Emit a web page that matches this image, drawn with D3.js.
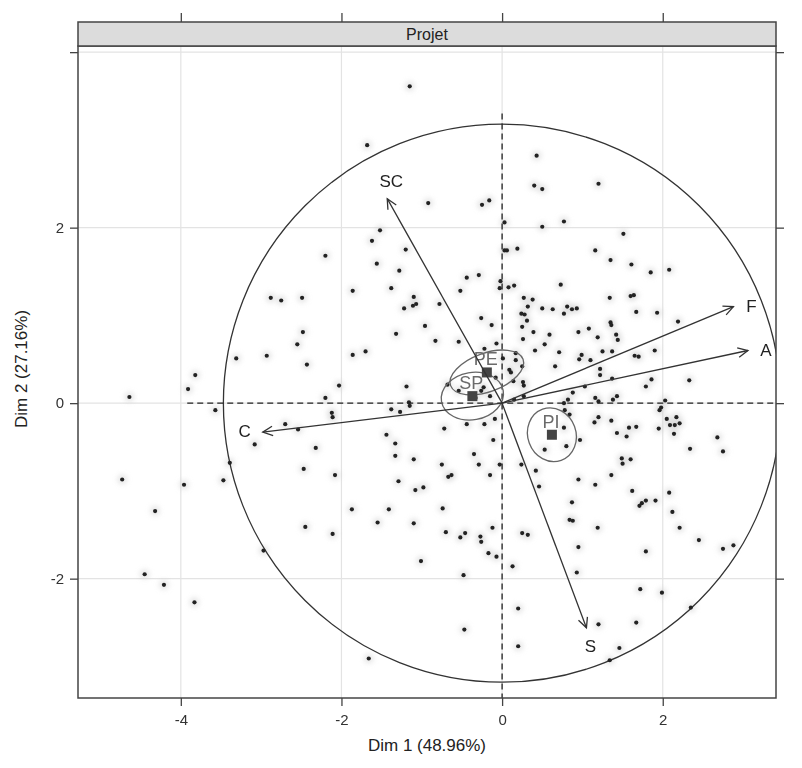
<!DOCTYPE html>
<html>
<head>
<meta charset="utf-8">
<script src="https://cdn.jsdelivr.net/npm/d3@7"></script>
<style>
body { margin: 0; background: #fff; }
text { font-family: "Liberation Sans", Arial, sans-serif; }
</style>
</head>
<body>
<div id="graph"></div>
<script>
// individuals (Dim 1, Dim 2)
var dimX = [-1.15,-1.68,0.43,-0.92,-0.25,-0.16,0.40,0.50,-1.52,-1.62,-1.20,-2.20,-1.56,0.03,0.06,0.19,0.03,0.50,
  1.20,0.77,1.51,1.16,1.35,1.61,
  -2.88,-2.75,-2.49,-2.48,-2.55,-2.43,-2.93,-3.31,-3.82,-3.91,-4.64,-3.57,-2.70,-2.54,-3.08,-3.39,-2.47,-4.73,-3.47,
  -1.28,-0.44,-0.29,-1.86,-1.38,-0.52,-0.02,-0.03,0.08,0.15,-1.10,-1.07,-1.11,-1.22,-0.78,0.27,0.38,0.50,0.32,0.24,0.28,
  -0.26,0.31,-0.13,-0.96,0.25,0.39,-1.32,-0.83,-0.54,-0.07,0.26,0.41,-1.86,-1.70,-0.22,0.17,0.01,0.09,0.11,0.17,0.25,
  0.26,0.27,0.14,-0.08,-0.23,-0.26,-2.03,-1.19,-0.68,-0.54,-2.20,-1.15,-1.16,-1.38,-1.27,-2.12,-2.11,-0.33,-0.15,-0.44,
  -0.22,-0.09,-0.72,-1.44,-1.33,-2.32,-0.11,-1.33,-1.10,-0.35,-0.75,-0.29,-0.03,0.24,0.42,-2.08,-0.67,-0.63,-0.15,-1.29,
  0.53,0.15,0.27,
  1.85,2.08,0.73,1.34,1.60,1.64,0.63,0.81,0.87,0.93,0.77,1.67,1.93,1.35,1.36,2.19,0.59,0.95,1.08,1.19,1.42,1.44,0.53,
  0.71,0.96,0.99,1.10,1.25,1.37,1.65,1.70,1.90,0.66,1.22,1.22,1.37,0.88,0.82,1.03,1.16,1.20,1.38,1.43,1.86,1.79,2.33,
  0.77,0.78,0.84,1.96,1.98,2.03,1.15,1.20,1.36,2.05,2.09,2.15,2.17,2.21,0.77,1.43,1.55,1.58,1.67,1.95,2.14,0.97,0.80,
  2.68,2.34,2.75,1.49,1.50,1.60,1.36,0.95,
  -3.96,-4.32,-2.45,-2.97,-4.45,-4.21,-3.83,
  -1.08,-0.98,-1.87,-1.41,-0.74,-1.55,-1.10,-2.11,-0.70,-0.52,-0.46,-0.27,-0.26,-0.12,-0.17,-0.07,-1.01,0.13,0.25,0.32,
  0.46,-0.48,0.20,-0.47,0.20,-1.66,
  1.16,1.62,2.08,0.87,1.71,1.74,1.79,1.91,2.12,0.84,0.88,1.19,2.21,2.45,2.75,2.88,0.95,1.79,0.93,1.72,1.99,2.35,1.20,
  1.67,1.46,1.34];
var dimY = [3.61,2.94,2.82,2.28,2.26,2.31,2.48,2.44,1.97,1.85,1.75,1.68,1.59,1.74,1.74,1.76,2.06,2.01,
  2.50,2.07,1.93,1.74,1.63,1.58,
  1.20,1.17,1.20,0.81,0.67,0.44,0.54,0.51,0.32,0.16,0.07,-0.08,-0.24,-0.30,-0.47,-0.68,-0.75,-0.87,-0.88,
  1.51,1.43,1.46,1.28,1.31,1.28,1.39,1.31,1.32,1.34,1.21,1.13,1.11,1.08,1.13,1.20,1.18,1.08,1.10,1.02,1.01,
  0.97,0.94,0.89,0.88,0.87,0.81,0.79,0.71,0.70,0.68,0.73,0.60,0.55,0.59,0.62,0.57,0.51,0.38,0.35,0.49,0.42,
  0.24,0.20,0.25,0.29,0.18,0.14,0.20,0.19,0.21,0.14,0.06,-0.03,0.01,-0.07,-0.10,-0.11,-0.16,0.06,0.08,-0.24,
  -0.24,-0.18,-0.29,-0.36,-0.46,-0.51,-0.42,-0.60,-0.64,-0.58,-0.70,-0.70,-0.70,-0.70,-0.77,-0.82,-0.84,-0.82,-0.82,-0.89,
  -0.53,0.04,0.08,
  1.49,1.52,1.35,1.20,1.22,1.23,1.07,1.10,1.07,1.08,1.02,1.04,1.03,0.92,0.89,0.93,0.78,0.81,0.85,0.75,0.78,0.72,0.67,
  0.58,0.50,0.55,0.49,0.59,0.59,0.54,0.53,0.60,0.42,0.39,0.32,0.28,0.12,0.04,0.19,0.06,0.02,0.04,0.08,0.27,0.19,0.26,
  0.00,-0.08,-0.13,-0.08,-0.05,0.03,-0.22,-0.16,-0.20,-0.18,-0.25,-0.25,-0.16,-0.23,-0.28,-0.34,-0.38,-0.28,-0.27,-0.29,-0.35,-0.42,-0.49,
  -0.39,-0.52,-0.55,-0.63,-0.69,-0.64,-0.82,-0.87,
  -0.93,-1.23,-1.41,-1.68,-1.95,-2.07,-2.27,
  -0.99,-0.96,-1.21,-1.21,-1.20,-1.36,-1.37,-1.49,-1.47,-1.53,-1.48,-1.52,-1.58,-1.42,-1.71,-1.75,-1.80,-1.86,-1.48,-1.50,
  -0.95,-1.96,-2.34,-2.58,-2.77,-2.91,
  -0.93,-1.00,-1.02,-1.13,-1.17,-1.14,-1.11,-1.11,-1.24,-1.33,-1.34,-1.42,-1.42,-1.56,-1.66,-1.62,-1.64,-1.69,-1.93,-2.12,-2.16,-2.33,-2.52,
  -2.50,-2.79,-2.93];

// variables (arrows)
var varNames = ["SC", "F", "A", "C", "S"];
var varX = [-1.43, 2.88, 3.06, -2.98, 1.05];
var varY = [2.33, 1.10, 0.60, -0.33, -2.56];

// group centroids and confidence ellipses
var grpNames = ["PE", "SP", "PI"];
var grpX = [-0.19, -0.37, 0.62];
var grpY = [0.35, 0.08, -0.36];
var grpRx = [0.48, 0.39, 0.30];
var grpRy = [0.22, 0.27, 0.31];
var grpAngle = [-20, -10, -20];

var corrRadiusX = 3.47, corrRadiusY = 3.18;

var xTicks = [-4, -2, 0, 2];
var yTicks = [-2, 0, 2, 4];
var yLabels = [-2, 0, 2];

var W = 802, H = 768;
var margin = {top: 46, right: 26, bottom: 70, left: 78};
var width = W - margin.left - margin.right,
    height = H - margin.top - margin.bottom;

var svg = d3.select('#graph').append('svg')
  .attr('width', W).attr('height', H);

var x = d3.scaleLinear().domain([-5.28, 3.41]).range([0, width]);
var y = d3.scaleLinear().domain([-3.36, 4.07]).range([height, 0]);

var defs = svg.append('defs');
defs.append('clipPath').attr('id', 'clip')
  .append('rect').attr('width', width).attr('height', height);
defs.append('filter').attr('id', 'blur')
  .attr('x', '-100%').attr('y', '-100%').attr('width', '300%').attr('height', '300%')
  .append('feGaussianBlur').attr('stdDeviation', 2.5);

var g = svg.append('g').attr('transform', `translate(${margin.left},${margin.top})`);

// grid
g.append('g').selectAll('line').data(xTicks).enter().append('line')
  .attr('x1', d => x(d)).attr('x2', d => x(d)).attr('y1', 0).attr('y2', height)
  .attr('stroke', '#e3e3e3').attr('stroke-width', 1.2);
g.append('g').selectAll('line').data(yTicks).enter().append('line')
  .attr('y1', d => y(d)).attr('y2', d => y(d)).attr('x1', 0).attr('x2', width)
  .attr('stroke', '#e3e3e3').attr('stroke-width', 1.2);

var plot = g.append('g').attr('clip-path', 'url(#clip)');

// halos
var pts = dimX.map((d, i) => [d, dimY[i]]);
plot.append('g').attr('filter', 'url(#blur)').selectAll('circle').data(pts).enter().append('circle')
  .attr('cx', d => x(d[0])).attr('cy', d => y(d[1])).attr('r', 5)
  .attr('fill', '#cfcfcf').attr('opacity', 0.5);

// correlation circle
plot.append('ellipse')
  .attr('cx', x(0)).attr('cy', y(0))
  .attr('rx', x(corrRadiusX) - x(0)).attr('ry', y(0) - y(corrRadiusY))
  .attr('fill', 'none').attr('stroke', '#333').attr('stroke-width', 1.3);

// zero lines
plot.append('line')
  .attr('x1', x(0)).attr('x2', x(0)).attr('y1', y(3.30)).attr('y2', height)
  .attr('stroke', '#222').attr('stroke-width', 1.3).attr('stroke-dasharray', '6,4');
plot.append('line')
  .attr('x1', x(-3.92)).attr('x2', width).attr('y1', y(0)).attr('y2', y(0))
  .attr('stroke', '#222').attr('stroke-width', 1.3).attr('stroke-dasharray', '6,4');

// points
plot.append('g').selectAll('circle').data(pts).enter().append('circle')
  .attr('cx', d => x(d[0])).attr('cy', d => y(d[1])).attr('r', 2.1)
  .attr('fill', '#222');

// group ellipses
var grp = grpNames.map((n, i) => ({name: n, x: grpX[i], y: grpY[i], rx: grpRx[i], ry: grpRy[i], a: grpAngle[i]}));
plot.append('g').selectAll('ellipse').data(grp).enter().append('ellipse')
  .attr('transform', d => `translate(${x(d.x)},${y(d.y)}) rotate(${d.a})`)
  .attr('rx', d => x(d.x + d.rx) - x(d.x)).attr('ry', d => y(d.y) - y(d.y + d.ry))
  .attr('fill', 'none').attr('stroke', '#666').attr('stroke-width', 1.3);
plot.append('g').selectAll('rect').data(grp).enter().append('rect')
  .attr('x', d => x(d.x) - 5).attr('y', d => y(d.y) - 5).attr('width', 10).attr('height', 10)
  .attr('fill', '#444');
plot.append('g').selectAll('text').data(grp).enter().append('text')
  .attr('x', d => x(d.x) - 1).attr('y', d => y(d.y) - 7)
  .attr('text-anchor', 'middle').attr('font-size', 18).attr('fill', '#6a6a6a')
  .text(d => d.name);

// arrows
var vars = varNames.map((n, i) => ({name: n, x: varX[i], y: varY[i]}));
var ag = plot.append('g');
vars.forEach(function(v){
  var x0 = x(0), y0 = y(0), x1 = x(v.x), y1 = y(v.y);
  var ang = Math.atan2(y1 - y0, x1 - x0), L = 11, sp = Math.PI / 7;
  ag.append('line').attr('x1', x0).attr('y1', y0).attr('x2', x1).attr('y2', y1)
    .attr('stroke', '#333').attr('stroke-width', 1.3);
  ag.append('path')
    .attr('d', `M${x1 - L * Math.cos(ang - sp)},${y1 - L * Math.sin(ang - sp)}L${x1},${y1}L${x1 - L * Math.cos(ang + sp)},${y1 - L * Math.sin(ang + sp)}`)
    .attr('fill', 'none').attr('stroke', '#333').attr('stroke-width', 1.3);
  // label beside the tip: sideways for flat arrows, above/below for steep ones
  var c = Math.cos(ang), s = Math.sin(ang);
  var dx = Math.abs(c) > 0.7 ? Math.sign(c) * 18 : 4;
  var dy = Math.abs(c) > 0.7 ? -1 : Math.sign(s) * 18;
  ag.append('text')
    .attr('x', x1 + dx).attr('y', y1 + dy + 6)
    .attr('text-anchor', 'middle').attr('font-size', 17).attr('fill', '#222')
    .text(v.name);
});

// panel border
g.append('rect').attr('width', width).attr('height', height)
  .attr('fill', 'none').attr('stroke', '#444').attr('stroke-width', 1.5);

// strip
var strip = g.append('g').attr('transform', 'translate(0,-24)');
strip.append('rect').attr('width', width).attr('height', 24)
  .attr('fill', '#dcdcdc').attr('stroke', '#444').attr('stroke-width', 1.5);
strip.append('text').attr('x', width / 2).attr('y', 18)
  .attr('text-anchor', 'middle').attr('font-size', 16).attr('fill', '#222').text('Projet');

// axes
function styleAxis(sel){
  sel.select('.domain').remove();
  sel.selectAll('line').attr('stroke', '#444').attr('stroke-width', 1.3);
  sel.selectAll('text').attr('font-size', 15).attr('fill', '#333')
    .attr('font-family', '"Liberation Sans", Arial, sans-serif');
}
g.append('g').attr('transform', `translate(0,${height})`)
  .call(d3.axisBottom(x).tickValues(xTicks).tickSize(8).tickPadding(8).tickFormat(d => String(d)))
  .call(styleAxis);
g.append('g').attr('transform', 'translate(0,-24)')
  .call(d3.axisTop(x).tickValues(xTicks).tickSize(9).tickFormat(''))
  .call(styleAxis);
g.append('g')
  .call(d3.axisLeft(y).tickValues(yTicks).tickSize(8).tickPadding(6)
    .tickFormat(d => yLabels.indexOf(d) >= 0 ? String(d) : ''))
  .call(styleAxis);
g.append('g').attr('transform', `translate(${width},0)`)
  .call(d3.axisRight(y).tickValues(yTicks).tickSize(8).tickFormat(''))
  .call(styleAxis);

// axis titles
svg.append('text').attr('x', margin.left + width / 2).attr('y', 751)
  .attr('text-anchor', 'middle').attr('font-size', 17).attr('fill', '#222')
  .text('Dim 1 (48.96%)');
svg.append('text').attr('transform', `translate(27,${margin.top + height / 2 - 3}) rotate(-90)`)
  .attr('text-anchor', 'middle').attr('font-size', 17).attr('fill', '#222')
  .text('Dim 2 (27.16%)');
</script>
</body>
</html>
